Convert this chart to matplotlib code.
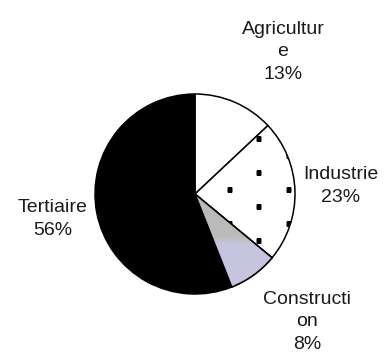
import numpy as np
import matplotlib.pyplot as plt
from matplotlib.colors import LinearSegmentedColormap
from matplotlib.patches import Wedge

plt.rcParams['font.family'] = ['Liberation Sans', 'DejaVu Sans']

secteurs = ['Agriculture', 'Industrie', 'Construction', 'Tertiaire']
parts = [13, 23, 8, 56]
etiquettes = ['Agricultur\ne\n13%', 'Industrie\n23%', 'Constructi\non\n8%', 'Tertiaire\n56%']
couleurs = ['white', 'white', '#c6c4de', 'black']

W, H = 391, 357
fig = plt.figure(figsize=(W / 100, H / 100), dpi=100)
ax = fig.add_axes([0, 0, 1, 1])

# camembert centré en pixels (origine en bas à gauche)
cx, cy, r = 195, H - 194, 100
wedges, _ = ax.pie(parts, colors=couleurs, startangle=90, counterclock=False,
                   center=(cx, cy), radius=r, frame=True,
                   wedgeprops=dict(edgecolor='black', linewidth=1.1))
ax.set_xlim(0, W)
ax.set_ylim(0, H)
ax.set_aspect('equal')
ax.axis('off')

# ombre grise dans la part construction
grad = np.linspace(0, 1, 200).reshape(-1, 1)
grad = np.clip((grad - 0.5) * 12, 0, 1)
cmap = LinearSegmentedColormap.from_list('c', ['#c6c4de', '#bababa'])
im = ax.imshow(grad, cmap=cmap, extent=(cx, cx + r, cy - r, cy), origin='lower',
               aspect='auto', zorder=1.5)
im.set_clip_path(wedges[2])
ax.set_aspect('equal')
ax.add_patch(Wedge((cx, cy), r, wedges[2].theta1, wedges[2].theta2,
                   fill=False, edgecolor='black', linewidth=1.1, zorder=2))

# motif de points carrés pour l'industrie
gx, gy = [], []
for i in range(-6, 6):
    x = 258 + i * 29.5
    off = 0 if i % 2 == 0 else 17
    for j in range(-6, 6):
        gx.append(x)
        gy.append(H - (172 + off + j * 34))
pts, = ax.plot(gx, gy, ls='none', marker='s', ms=3.6, mec='none', color='black', zorder=3)
pts.set_clip_path(wedges[1])

pos = [(283, 52), (341, 186), (307, 322), (53, 219)]
for (x, y), txt in zip(pos, etiquettes):
    ax.text(x, H - y, txt, ha='center', va='center', fontsize=14,
            linespacing=1.45, color='#1a1a1a')

fig.savefig('out.png', dpi=100, facecolor='white')
